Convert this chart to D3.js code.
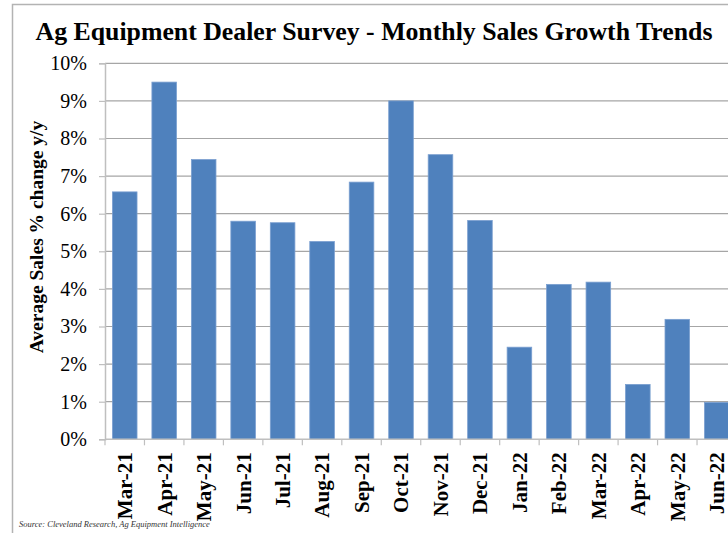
<!DOCTYPE html>
<html>
<head>
<meta charset="utf-8">
<script src="https://cdn.jsdelivr.net/npm/d3@7"></script>
<style>
  body { margin: 0; background: #fff; }
  svg { display: block; }
  text { font-family: "Liberation Serif", "Times New Roman", serif; }
</style>
</head>
<body>
<svg id="chart" width="728" height="533"></svg>
<script>
// data
var months = ["Mar-21", "Apr-21", "May-21", "Jun-21", "Jul-21", "Aug-21", "Sep-21", "Oct-21",
              "Nov-21", "Dec-21", "Jan-22", "Feb-22", "Mar-22", "Apr-22", "May-22", "Jun-22"];
var salesGrowth = [6.58, 9.50, 7.44, 5.80, 5.76, 5.26, 6.84, 9.00,
                   7.57, 5.82, 2.45, 4.12, 4.18, 1.46, 3.19, 0.98];
var yTicks = [0, 1, 2, 3, 4, 5, 6, 7, 8, 9, 10];

var svg = d3.select("#chart");
var serif = "Liberation Serif, Times New Roman, serif";

var plotLeft = 105, plotTop = 63.3, plotBottom = 439.3, plotRight = 736.5;

// outer chart frame (cut off on right/bottom like the reference)
svg.append("rect")
    .attr("x", 12.5).attr("y", 4.5)
    .attr("width", 760).attr("height", 600)
    .attr("fill", "none")
    .attr("stroke", "#b3b3b3")
    .attr("stroke-width", 1.5);

var x = d3.scaleBand()
    .domain(months)
    .range([plotLeft, plotRight])
    .paddingInner(0.377)
    .paddingOuter(0.1885);

var y = d3.scaleLinear().domain([0, 10]).range([plotBottom, plotTop]);

// gridlines
svg.append("g")
    .selectAll("line")
    .data(yTicks.filter(function (d) { return d > 0; }))
    .enter().append("line")
    .attr("x1", plotLeft).attr("x2", 728)
    .attr("y1", function (d) { return y(d); })
    .attr("y2", function (d) { return y(d); })
    .attr("stroke", "#a6a6a6")
    .attr("stroke-width", 1.2);

// bars
svg.append("g")
    .selectAll("rect")
    .data(salesGrowth)
    .enter().append("rect")
    .attr("x", function (d, i) { return x(months[i]); })
    .attr("y", function (d) { return y(d); })
    .attr("width", x.bandwidth())
    .attr("height", function (d) { return plotBottom - y(d); })
    .attr("fill", "#4f81bd")
    .attr("stroke", "#7a9fd0")
    .attr("stroke-width", 0.8);

// y axis
var yAxis = svg.append("g")
    .attr("transform", "translate(" + plotLeft + ",0)")
    .attr("font-family", serif)
    .attr("font-size", 20)
    .call(d3.axisLeft(y).tickValues(yTicks).tickSize(6).tickPadding(12)
        .tickFormat(function (d) { return d + "%"; }));
yAxis.select(".domain").attr("stroke", "#bfbfbf").attr("stroke-width", 1.5);
yAxis.selectAll(".tick line").attr("stroke", "#bfbfbf").attr("stroke-width", 1.2);
yAxis.selectAll(".tick text")
    .attr("font-family", serif)
    .attr("font-size", 20)
    .attr("fill", "#000");

// x axis line and ticks at band edges
svg.append("line")
    .attr("x1", plotLeft).attr("x2", 728)
    .attr("y1", plotBottom).attr("y2", plotBottom)
    .attr("stroke", "#bfbfbf").attr("stroke-width", 1.5);

svg.append("g")
    .selectAll("line")
    .data(months)
    .enter().append("line")
    .attr("x1", function (d) { return x(d) - x.step() * x.paddingInner() / 2; })
    .attr("x2", function (d) { return x(d) - x.step() * x.paddingInner() / 2; })
    .attr("y1", plotBottom).attr("y2", plotBottom + 6)
    .attr("stroke", "#bfbfbf").attr("stroke-width", 1.2);

// x labels, rotated
svg.append("g")
    .selectAll("text")
    .data(months)
    .enter().append("text")
    .attr("transform", function (d) {
        return "translate(" + (x(d) + x.bandwidth() / 2) + "," + (plotBottom + 13) + ") rotate(-90)";
    })
    .attr("dy", "0.35em")
    .attr("text-anchor", "end")
    .attr("font-family", serif)
    .attr("font-weight", "bold")
    .attr("font-size", 21)
    .text(function (d) { return d; });

// title
svg.append("text")
    .attr("x", 374).attr("y", 40)
    .attr("text-anchor", "middle")
    .attr("font-family", serif)
    .attr("font-weight", "bold")
    .attr("font-size", 25.8)
    .text("Ag Equipment Dealer Survey - Monthly Sales Growth Trends");

// y axis title
svg.append("text")
    .attr("transform", "translate(36,237) rotate(-90)")
    .attr("dy", "0.35em")
    .attr("text-anchor", "middle")
    .attr("font-family", serif)
    .attr("font-weight", "bold")
    .attr("font-size", 19.5)
    .text("Average Sales % change y/y");

// source note
svg.append("text")
    .attr("x", 19).attr("y", 527)
    .attr("font-family", serif)
    .attr("font-style", "italic")
    .attr("font-size", 8.5)
    .attr("fill", "#333")
    .text("Source: Cleveland Research, Ag Equipment Intelligence");
</script>
</body>
</html>
